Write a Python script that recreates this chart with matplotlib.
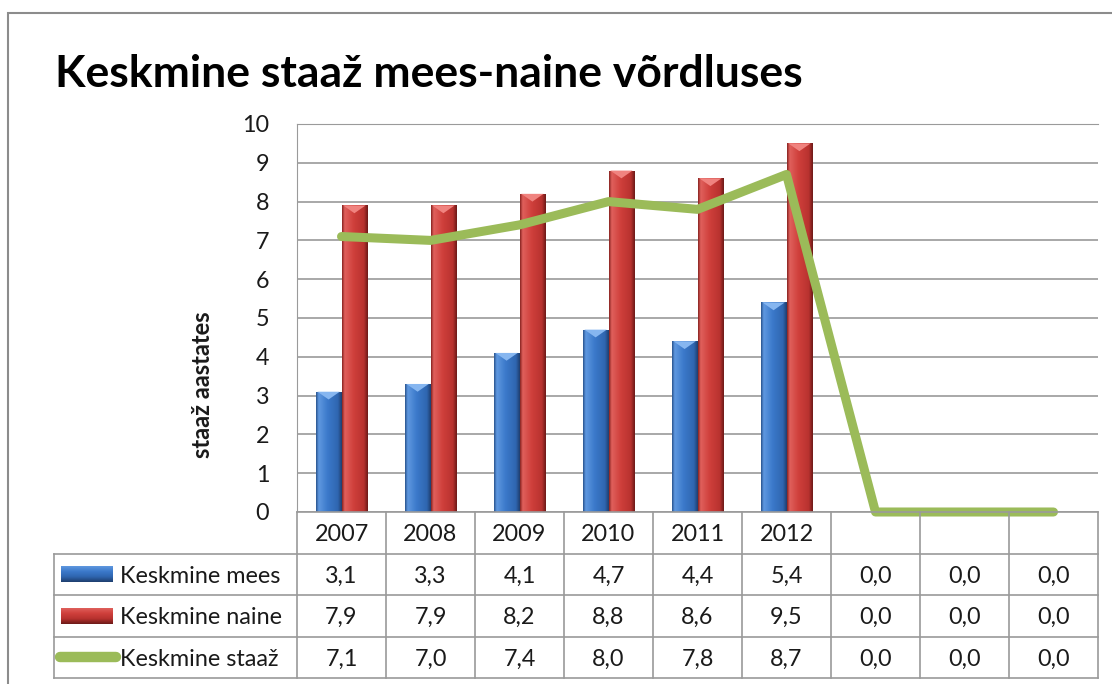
import numpy as np
import matplotlib
matplotlib.use("Agg")
import matplotlib.pyplot as plt
from matplotlib.colors import LinearSegmentedColormap
from matplotlib.patches import Polygon

plt.rcParams['font.family'] = ['Lato', 'DejaVu Sans']

# data
years = ["2007", "2008", "2009", "2010", "2011", "2012", "", "", ""]
mees = [3.1, 3.3, 4.1, 4.7, 4.4, 5.4, 0.0, 0.0, 0.0]
naine = [7.9, 7.9, 8.2, 8.8, 8.6, 9.5, 0.0, 0.0, 0.0]
staaz = [7.1, 7.0, 7.4, 8.0, 7.8, 8.7, 0.0, 0.0, 0.0]
series_names = ["Keskmine mees", "Keskmine naine", "Keskmine staaž"]

W, H = 1112, 684
fig = plt.figure(figsize=(W / 100, H / 100), dpi=100)

# outer chart border
fig.patches.append(plt.Rectangle((8 / W, -0.05), 1.2, (H - 13) / H + 0.05,
                                 transform=fig.transFigure, fill=False,
                                 edgecolor="#8c8c8c", linewidth=1.5))

txtc = "#1a1a1a"
fs = 16.8

px_l, px_r, px_t, px_b = 297, 1098, 124, 512
ax = fig.add_axes([px_l / W, (H - px_b) / H, (px_r - px_l) / W, (px_b - px_t) / H])
n = len(years)
x = np.arange(n)
ax.set_yticks(range(0, 11))
ax.tick_params(axis="y", length=0, pad=20, labelsize=fs, labelcolor=txtc)
ax.set_xticks([])
ax.grid(axis="y", color="#9a9a9a", linewidth=1.2)
ax.set_axisbelow(True)
for s in ["right", "bottom"]:
    ax.spines[s].set_visible(False)
ax.spines["left"].set_color("#9a9a9a")
ax.spines["top"].set_color("#9a9a9a")
ax.set_ylabel("staaž aastates", fontsize=17, fontweight="bold", color=txtc)
ax.yaxis.set_label_coords(-0.104, 0.327)

bw = 0.29
blue_cm = LinearSegmentedColormap.from_list(
    "b", [(0, "#2a5590"), (0.1, "#5f98e0"), (0.45, "#3b79ca"), (0.85, "#2f66b0"), (1, "#1f3f70")])
red_cm = LinearSegmentedColormap.from_list(
    "r", [(0, "#8a2522"), (0.1, "#e0605c"), (0.45, "#cf3f3b"), (0.85, "#b8322f"), (1, "#6e1a18")])
grad = np.linspace(0, 1, 64).reshape(1, -1)

def bevel_bars(xs, vals, cmap, top_col):
    bars = ax.bar(xs, vals, width=bw, color="none", edgecolor="none", zorder=2)
    for b, v in zip(bars, vals):
        if v <= 0:
            continue
        x0, x1 = b.get_x(), b.get_x() + b.get_width()
        im = ax.imshow(grad, cmap=cmap, aspect="auto", extent=(x0, x1, 0, v),
                       zorder=2, interpolation="bilinear")
        im.set_clip_path(b)
        tri = Polygon([(x0 + 0.02, v), (x1 - 0.02, v), ((x0 + x1) / 2, v - 0.2)],
                      closed=True, facecolor=top_col, edgecolor="none", zorder=3)
        ax.add_patch(tri)

bevel_bars(x - bw / 2, mees, blue_cm, "#86b6f0")
bevel_bars(x + bw / 2, naine, red_cm, "#f0837f")
ax.set_xlim(-0.5, n - 0.5)
ax.set_ylim(0, 10)

ax.plot(x, staaz, color="#9bbb59", linewidth=6.5, solid_capstyle="round",
        solid_joinstyle="round", zorder=4, clip_on=False)

# data table below
tab_l, tab_b, tab_t = 54, 678, 512
colw = (px_r - px_l) / n
leg_w = (px_l - tab_l) / colw
tax = fig.add_axes([tab_l / W, (H - tab_b) / H, (px_r - tab_l) / W, (tab_b - tab_t) / H])
tax.axis("off")
lc = "#9a9a9a"
for i in range(n + 1):
    tax.plot([i - 0.5, i - 0.5], [0, 4], color=lc, linewidth=1.2, clip_on=False)
tax.plot([-0.5 - leg_w, -0.5 - leg_w], [1, 4], color=lc, linewidth=1.2, clip_on=False)
for r in range(1, 5):
    tax.plot([-0.5 - leg_w, n - 0.5], [r, r], color=lc, linewidth=1.2, clip_on=False)
tax.plot([-0.5, n - 0.5], [0, 0], color=lc, linewidth=1.2, clip_on=False)

for i, yr in enumerate(years):
    tax.text(i, 0.55, yr, ha="center", va="center", fontsize=fs, color=txtc)
rows = [mees, naine, staaz]
for r, vals in enumerate(rows):
    for i, v in enumerate(vals):
        tax.text(i, r + 1.55, f"{v:.1f}".replace(".", ","), ha="center", va="center",
                 fontsize=fs, color=txtc)

# legend keys
sx0 = -0.5 - leg_w + 0.08
sx1 = sx0 + 0.58
for r, (name, cm) in enumerate(zip(series_names, [blue_cm, red_cm, None])):
    yc = r + 1.5
    if cm is not None:
        tax.imshow(np.linspace(0, 1, 32).reshape(-1, 1), cmap=LinearSegmentedColormap.from_list(
            "k", [cm(0.1), cm(0.45), cm(0.85), cm(1.0)]), aspect="auto",
            extent=(sx0, sx1, yc + 0.19, yc - 0.19), zorder=2)
    else:
        tax.plot([sx0 - 0.01, sx1 + 0.04], [yc, yc], color="#9bbb59", linewidth=7.5,
                 solid_capstyle="round", clip_on=False)
    tax.text(sx1 + 0.08, yc + 0.05, name, ha="left", va="center", fontsize=fs, color=txtc)
tax.set_xlim(-0.5 - leg_w, n - 0.5)
tax.set_ylim(4, 0)

fig.text(55 / W, 1 - 87 / H, "Keskmine staaž mees-naine võrdluses", fontsize=32,
         fontweight="bold", ha="left", va="baseline", color="#000000")

fig.savefig("out.png", dpi=100)
